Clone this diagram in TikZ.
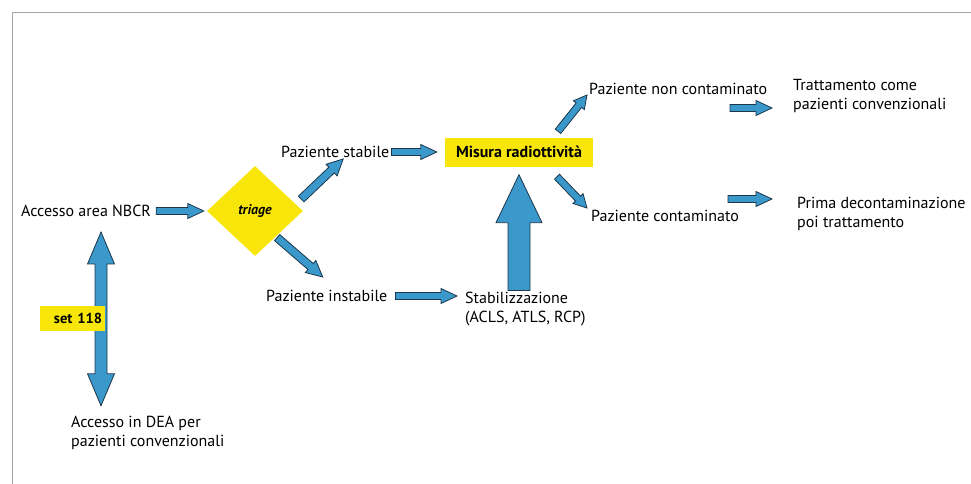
\documentclass[tikz,border=0pt]{standalone}
\usepackage{fontspec}
\setmainfont{PT Sans}
\usetikzlibrary{calc,shapes.geometric}
\definecolor{ayellow}{RGB}{248,230,10}
\definecolor{afill}{RGB}{58,152,202}
\definecolor{aline}{RGB}{28,55,75}
\definecolor{frame}{RGB}{160,168,172}
\tikzset{
  bw/.store in=\bw, bh/.store in=\bh, bl/.store in=\bl,
  sa/.store in=\sa, se/.store in=\se,
  bw=3.5, bh=7.5, bl=16, sa=2, se=2,
  blk/.style={draw=aline, fill=afill, line width=0.8pt, line join=miter,
    to path={
      let \p1=($(\tikztostart)!\sa pt!(\tikztotarget)$),
          \p2=($(\tikztotarget)!\se pt!(\tikztostart)$),
          \n1={scalar(atan2(\y2-\y1,\x2-\x1))},
          \n2={scalar(veclen(\x2-\x1,\y2-\y1))-\bl},
          \n3={\n1+90}, \n4={\n1-90} in
      ($(\p1)+(\n3:\bw pt)$) -- ($(\p1)+(\n1:\n2 pt)+(\n3:\bw pt)$)
      -- ($(\p1)+(\n1:\n2 pt)+(\n3:\bh pt)$) -- (\p2)
      -- ($(\p1)+(\n1:\n2 pt)+(\n4:\bh pt)$) -- ($(\p1)+(\n1:\n2 pt)+(\n4:\bw pt)$)
      -- ($(\p1)+(\n4:\bw pt)$) -- cycle}},
  blkk/.style={draw=aline, fill=afill, line width=0.8pt, line join=miter,
    to path={
      let \p1=($(\tikztostart)!\sa pt!(\tikztotarget)$),
          \p2=($(\tikztotarget)!\se pt!(\tikztostart)$),
          \n1={scalar(atan2(\y2-\y1,\x2-\x1))},
          \n2={scalar(veclen(\x2-\x1,\y2-\y1))-\bl},
          \n3={\n1+90}, \n4={\n1-90} in
      (\p1) -- ($(\p1)+(\n1:\bl pt)+(\n3:\bh pt)$) -- ($(\p1)+(\n1:\bl pt)+(\n3:\bw pt)$)
      -- ($(\p1)+(\n1:\n2 pt)+(\n3:\bw pt)$)
      -- ($(\p1)+(\n1:\n2 pt)+(\n3:\bh pt)$) -- (\p2)
      -- ($(\p1)+(\n1:\n2 pt)+(\n4:\bh pt)$) -- ($(\p1)+(\n1:\n2 pt)+(\n4:\bw pt)$)
      -- ($(\p1)+(\n1:\bl pt)+(\n4:\bw pt)$) -- ($(\p1)+(\n1:\bl pt)+(\n4:\bh pt)$)
      -- cycle}},
  txt/.style={anchor=west, inner sep=1pt, font=\fontsize{16}{19.5}\selectfont, align=left},
  ybox/.style={fill=ayellow, inner sep=0pt, font=\bfseries\fontsize{14.5}{17}\selectfont}
}
\begin{document}
\begin{tikzpicture}[x=1pt,y=-1pt]
\useasboundingbox (0,0) rectangle (971,484);
\draw[frame, line width=1pt] (12,484) -- (12,13) -- (971,13);
% nodes
\node[txt] (accesso) at (20,211) {Accesso area NBCR};
\node[diamond, fill=ayellow, minimum width=96pt, minimum height=90pt, inner sep=0pt,
      font=\bfseries\itshape\fontsize{14}{16}\selectfont] (triage) at (255,211) {triage};
\node[txt] (stabile) at (280,152) {Paziente stabile};
\node[ybox, minimum width=148pt, minimum height=29pt, font=\bfseries\fontsize{16}{18}\selectfont] (misura) at (519,152) {Misura radiottività};
\node[txt] (nonc) at (588,89) {Paziente non contaminato};
\node[txt] (cont) at (590,216) {Paziente contaminato};
\node[txt] (tratt) at (792,96) {Trattamento come\\pazienti convenzionali};
\node[txt] (prima) at (796,214) {Prima decontaminazione\\poi trattamento};
\node[txt] (instab) at (265,296) {Paziente instabile};
\node[txt] (stabil) at (464,309) {Stabilizzazione\\(ACLS, ATLS, RCP)};
\node[txt] (dea) at (70,433) {Accesso in DEA per\\pazienti convenzionali};
% connectors
\draw[blk, sa=4, se=3] (accesso.east) to (triage.west);
\draw[blk, bw=4, bh=8, sa=0, se=0] ($(triage.east)+(-2,-12)$) to ($(stabile.south)+(8,0)$);
\draw[blk, bw=4, bh=8, sa=0, se=0] ($(triage.south east)+(-2,4)$) to ($(instab.north)+(-4,-12)$);
\draw[blk, sa=1, se=8] (stabile.east) to (misura.west);
\draw[blk, bw=3.5, bh=7, bl=13, sa=0, se=0] ($(misura.north)+(39,-6)$) to ($(nonc.west)+(-1,6)$);
\draw[blk, bw=3.5, bh=7, bl=13, sa=0, se=0] ($(misura.south)+(38,10)$) to ($(cont.west)+(-3,-8)$);
\draw[blk, sa=0, se=0] ($(tratt.west)+(-62,12)$) to ($(tratt.west)+(-20,12)$);
\draw[blk, sa=0, se=0] ($(prima.west)+(-68,-15)$) to ($(prima.west)+(-24,-15)$);
\draw[blk, sa=7, se=7] (instab.east) to (instab.east -| stabil.west);
\draw[blk, bw=11, bh=23, bl=48, sa=0, se=8] (stabil.north -| misura.south) to (misura.south);
\draw[blkk, bw=6, bh=13.5, bl=32, sa=0, se=0] ($(accesso.south west)+(81,14)$) to ($(dea.north west)+(31,-9)$);
% label box laid over the double arrow
\node[ybox, minimum height=25pt, text width=59pt, align=right, inner xsep=3pt] (set) at (72.5,318) {set 118};
\end{tikzpicture}
\end{document}
